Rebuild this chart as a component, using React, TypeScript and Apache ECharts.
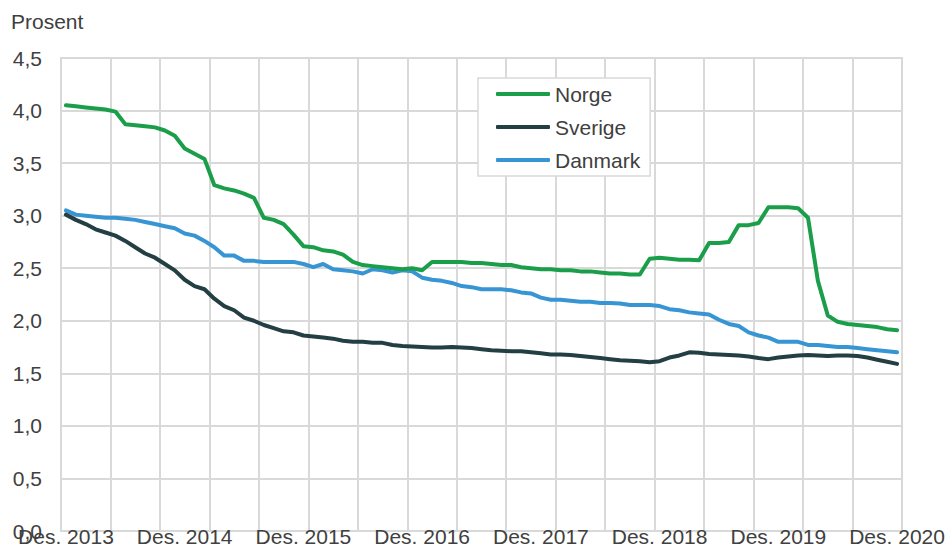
import React, { useEffect, useRef } from "react";
import * as echarts from "echarts";

const monthNames = ["Des.", "Jan.", "Feb.", "Mar.", "Apr.", "Mai", "Jun.", "Jul.", "Aug.", "Sep.", "Okt.", "Nov."];
const startYear = 2013;
const monthCount = 85;

const norge = [
  4.05, 4.04, 4.03, 4.02, 4.01, 3.99, 3.87, 3.86, 3.85, 3.84, 3.81, 3.76, 3.64, 3.59, 3.54, 3.29, 3.26, 3.24, 3.21, 3.17,
  2.98, 2.96, 2.92, 2.82, 2.71, 2.7, 2.67, 2.66, 2.63, 2.56, 2.53, 2.52, 2.51, 2.5, 2.49, 2.5, 2.48, 2.56, 2.56, 2.56,
  2.56, 2.55, 2.55, 2.54, 2.53, 2.53, 2.51, 2.5, 2.49, 2.49, 2.48, 2.48, 2.47, 2.47, 2.46, 2.45, 2.45, 2.44, 2.44, 2.59,
  2.6, 2.59, 2.58, 2.58, 2.575, 2.74, 2.74, 2.75, 2.91, 2.91, 2.93, 3.08, 3.08, 3.08, 3.07, 2.98, 2.38, 2.05, 1.99, 1.97,
  1.96, 1.95, 1.94, 1.92, 1.91,
];

const sverige = [
  3.01, 2.96, 2.92, 2.87, 2.84, 2.81, 2.76, 2.7, 2.64, 2.6, 2.54, 2.48, 2.39, 2.33, 2.3, 2.21, 2.14, 2.1, 2.03, 2.0,
  1.96, 1.93, 1.9, 1.89, 1.86, 1.85, 1.84, 1.83, 1.81, 1.8, 1.8, 1.79, 1.79, 1.77, 1.76, 1.755, 1.75, 1.745, 1.745, 1.75,
  1.745, 1.74, 1.73, 1.72, 1.715, 1.71, 1.71, 1.7, 1.69, 1.68, 1.68, 1.675, 1.665, 1.655, 1.645, 1.635, 1.625, 1.62, 1.615, 1.605,
  1.615, 1.65, 1.67, 1.70, 1.695, 1.685, 1.68, 1.675, 1.67, 1.66, 1.645, 1.635, 1.65, 1.66, 1.67, 1.675, 1.67, 1.665, 1.67, 1.67,
  1.665, 1.65, 1.63, 1.61, 1.59,
];

const danmark = [
  3.05, 3.01, 3.0, 2.99, 2.98, 2.98, 2.97, 2.96, 2.94, 2.92, 2.9, 2.88, 2.83, 2.81, 2.76, 2.7, 2.62, 2.62, 2.57, 2.57,
  2.56, 2.56, 2.56, 2.56, 2.54, 2.51, 2.54, 2.49, 2.48, 2.47, 2.45, 2.49, 2.48, 2.46, 2.48, 2.47, 2.41, 2.39, 2.38, 2.36,
  2.33, 2.32, 2.3, 2.3, 2.3, 2.29, 2.27, 2.26, 2.22, 2.2, 2.2, 2.19, 2.18, 2.18, 2.17, 2.17, 2.165, 2.15, 2.15, 2.15,
  2.14, 2.11, 2.1, 2.08, 2.07, 2.06, 2.01, 1.97, 1.95, 1.89, 1.86, 1.84, 1.8, 1.8, 1.8, 1.77, 1.77, 1.76, 1.75, 1.75,
  1.74, 1.73, 1.72, 1.71, 1.7,
];

const seriesNames = ["Norge", "Sverige", "Danmark"];
const seriesColors = ["#1a9e4a", "#233f44", "#3895d3"];

const categories: string[] = [];
for (let i = 0; i < monthCount; i++) {
  const m = i % 12;
  const y = startYear + Math.floor((i + 11) / 12);
  categories.push(`${monthNames[m]} ${y}`);
}

const FONT = "'Liberation Sans', Arial, sans-serif";
const TEXT = "#404040";
const GRID = "#d9d9d9";

export default function App() {
  const ref = useRef<HTMLDivElement>(null);
  useEffect(() => {
    if (!ref.current) return;
    const chart = echarts.init(ref.current, undefined, { renderer: "svg" });
    const data = [norge, sverige, danmark];
    chart.setOption({
      animation: false,
      backgroundColor: "#ffffff",
      grid: {
        left: 61,
        right: 46,
        top: 58,
        bottom: 27,
        show: true,
        borderColor: GRID,
        borderWidth: 2,
        backgroundColor: "transparent",
      },
      graphic: [
        {
          type: "text",
          left: 11,
          top: 11,
          style: { text: "Prosent", fontSize: 21, fontFamily: FONT, fill: TEXT },
        },
      ],
      legend: {
        data: seriesNames,
        orient: "vertical",
        left: 478,
        top: 78,
        padding: [5.5, 10, 5.5, 18],
        itemWidth: 54,
        itemHeight: 4,
        itemGap: 12,
        icon: "roundRect",
        borderColor: GRID,
        borderWidth: 1.5,
        backgroundColor: "#ffffff",
        textStyle: { fontSize: 21, lineHeight: 21, color: TEXT, fontFamily: FONT },
      },
      xAxis: {
        type: "category",
        data: categories,
        boundaryGap: true,
        axisLine: { show: false },
        axisTick: { show: false },
        axisLabel: {
          interval: (i: number) => i % 12 === 0,
          color: TEXT,
          fontSize: 21,
          fontFamily: FONT,
          margin: -5,
          formatter: (v: string) => v,
        },
        splitLine: {
          show: true,
          interval: (i: number) => i % 5 === 0,
          lineStyle: { color: GRID, width: 2 },
        },
      },
      yAxis: {
        type: "value",
        min: 0,
        max: 4.5,
        interval: 0.5,
        axisLine: { show: false },
        axisTick: { show: false },
        axisLabel: {
          color: TEXT,
          fontSize: 21,
          fontFamily: FONT,
          margin: 19,
          formatter: (v: number) => v.toFixed(1).replace(".", ","),
        },
        splitLine: { show: true, lineStyle: { color: GRID, width: 2 } },
      },
      series: seriesNames.map((name, k) => ({
        name,
        type: "line",
        data: data[k],
        symbol: "none",
        showSymbol: false,
        smooth: false,
        z: 3 - k + 2,
        color: seriesColors[k],
        lineStyle: { color: seriesColors[k], width: 4, cap: "round", join: "round" },
        itemStyle: { color: seriesColors[k] },
      })),
    });
    return () => chart.dispose();
  }, []);
  return (
    <div
      ref={ref}
      style={{ position: "absolute", left: 0, top: 0, width: 948, height: 558 }}
    />
  );
}
